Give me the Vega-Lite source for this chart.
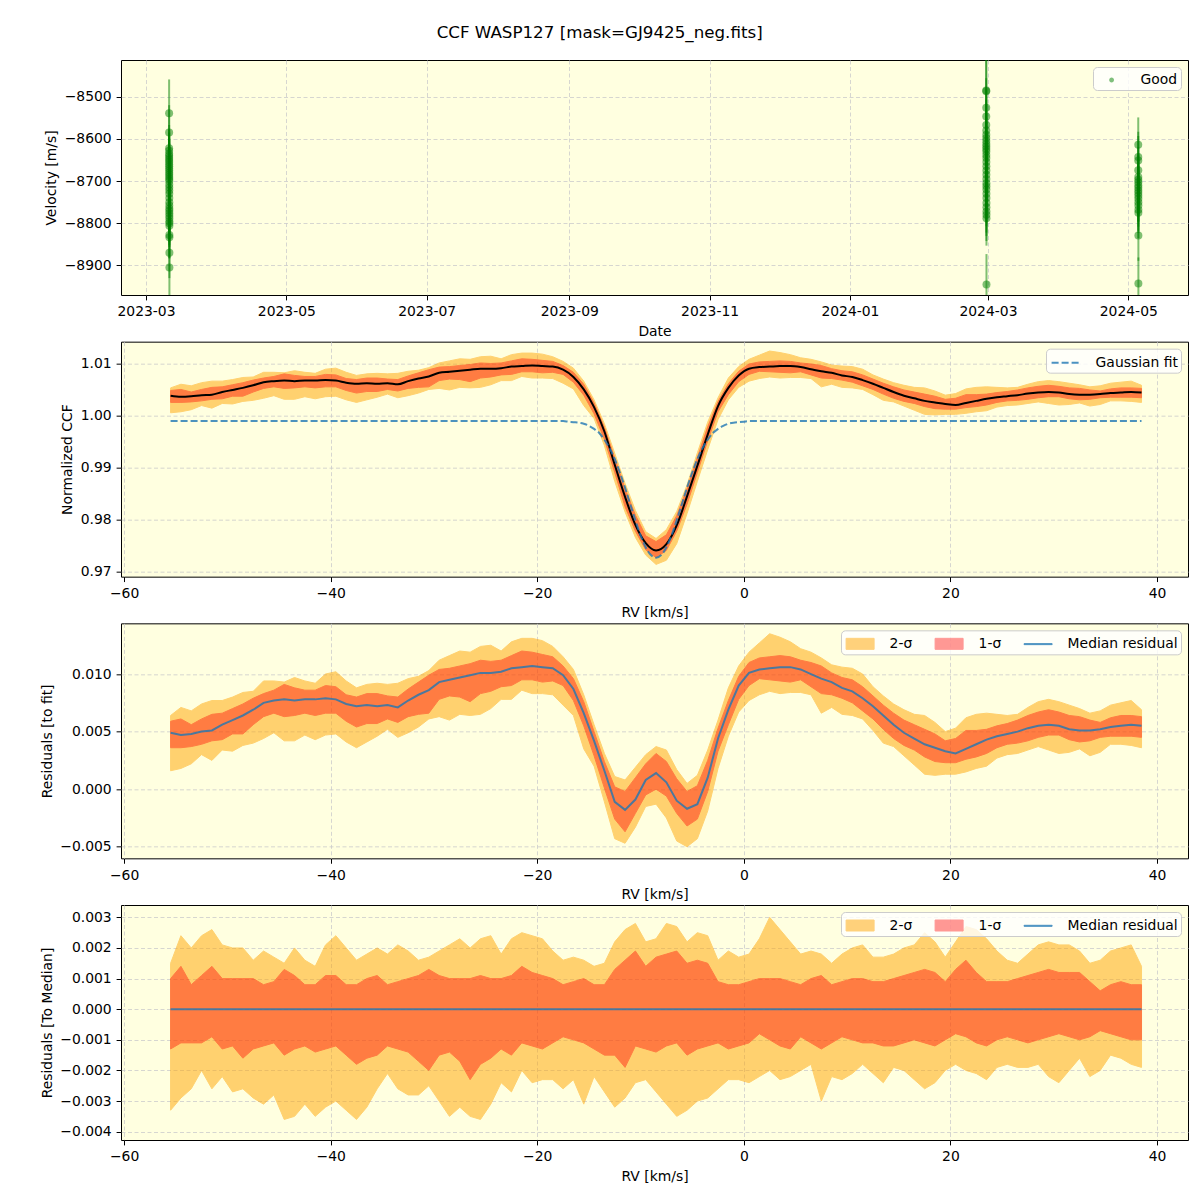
{
"$schema": "https://vega.github.io/schema/vega-lite/v6.json",
"background": "white",
"padding": {"left": 39, "top": 24, "right": 12, "bottom": 0},
"title": {"text": "CCF WASP127 [mask=GJ9425_neg.fits]", "font": "DejaVu Sans", "fontSize": 16.7, "fontWeight": "normal", "color": "#000000", "anchor": "middle", "offset": 18, "dx": -14.5},
"config": {
  "font": "DejaVu Sans",
  "view": {"fill": "#ffffe0", "stroke": "#000000", "strokeWidth": 1},
  "axis": {"domain": false, "grid": true, "gridColor": "#cccccc", "gridDash": [4, 2.5], "gridWidth": 0.8, "tickColor": "#000000", "tickSize": 4.9, "tickWidth": 1, "labelFont": "DejaVu Sans", "labelFontSize": 13.9, "labelColor": "#000000", "labelPadding": 4.9, "titleFont": "DejaVu Sans", "titleFontSize": 13.9, "titleFontWeight": "normal", "titleColor": "#000000", "titlePadding": 5.5, "labelFlush": false, "labelOverlap": false, "zindex": 1},
  "legend": {"orient": "top-right", "offset": 7, "padding": 3, "symbolSize": 400, "symbolOffset": 5.6, "labelOffset": 19, "labelFont": "DejaVu Sans", "labelFontSize": 13.9, "labelColor": "#000000", "fillColor": "rgba(255,255,255,0.8)", "strokeColor": "#cccccc", "cornerRadius": 4, "labelLimit": 400}
},
"datasets": {
"rvs": [
{"t":"2023-03-11T01:00","v":-8539,"e":80},{"t":"2023-03-11T01:05","v":-8585,"e":65},{"t":"2023-03-11T01:10","v":-8622,"e":55},{"t":"2023-03-11T01:15","v":-8628,"e":50},{"t":"2023-03-11T01:20","v":-8635,"e":50},{"t":"2023-03-11T01:25","v":-8640,"e":55},{"t":"2023-03-11T01:30","v":-8645,"e":48},{"t":"2023-03-11T01:35","v":-8650,"e":50},{"t":"2023-03-11T01:40","v":-8655,"e":52},{"t":"2023-03-11T01:45","v":-8660,"e":50},{"t":"2023-03-11T01:50","v":-8665,"e":45},{"t":"2023-03-11T01:55","v":-8670,"e":50},{"t":"2023-03-11T02:00","v":-8675,"e":55},{"t":"2023-03-11T02:05","v":-8680,"e":48},{"t":"2023-03-11T02:10","v":-8685,"e":50},{"t":"2023-03-11T02:15","v":-8690,"e":52},{"t":"2023-03-11T02:20","v":-8695,"e":50},{"t":"2023-03-11T02:25","v":-8700,"e":55},{"t":"2023-03-11T02:30","v":-8708,"e":50},{"t":"2023-03-11T02:35","v":-8715,"e":48},{"t":"2023-03-11T02:40","v":-8722,"e":50},{"t":"2023-03-11T02:45","v":-8730,"e":52},{"t":"2023-03-11T02:50","v":-8740,"e":50},{"t":"2023-03-11T02:55","v":-8750,"e":48},{"t":"2023-03-11T03:00","v":-8758,"e":50},{"t":"2023-03-11T03:05","v":-8765,"e":52},{"t":"2023-03-11T03:10","v":-8770,"e":50},{"t":"2023-03-11T03:15","v":-8776,"e":55},{"t":"2023-03-11T03:20","v":-8782,"e":50},{"t":"2023-03-11T03:25","v":-8788,"e":48},{"t":"2023-03-11T03:30","v":-8795,"e":50},{"t":"2023-03-11T03:35","v":-8800,"e":52},{"t":"2023-03-11T03:40","v":-8806,"e":50},{"t":"2023-03-11T03:45","v":-8828,"e":55},{"t":"2023-03-11T03:50","v":-8833,"e":50},{"t":"2023-03-11T03:55","v":-8870,"e":60},{"t":"2023-03-11T04:00","v":-8905,"e":70},
{"t":"2024-02-29T06:00","v":-8485,"e":80},{"t":"2024-02-29T06:05","v":-8487,"e":78},{"t":"2024-02-29T06:10","v":-8526,"e":70},{"t":"2024-02-29T06:15","v":-8547,"e":65},{"t":"2024-02-29T06:20","v":-8567,"e":60},{"t":"2024-02-29T06:25","v":-8580,"e":62},{"t":"2024-02-29T06:30","v":-8590,"e":58},{"t":"2024-02-29T06:35","v":-8598,"e":60},{"t":"2024-02-29T06:40","v":-8605,"e":55},{"t":"2024-02-29T06:45","v":-8612,"e":60},{"t":"2024-02-29T06:50","v":-8618,"e":58},{"t":"2024-02-29T06:55","v":-8624,"e":55},{"t":"2024-02-29T07:00","v":-8630,"e":60},{"t":"2024-02-29T07:05","v":-8638,"e":55},{"t":"2024-02-29T07:10","v":-8645,"e":58},{"t":"2024-02-29T07:15","v":-8655,"e":60},{"t":"2024-02-29T07:20","v":-8665,"e":55},{"t":"2024-02-29T07:25","v":-8675,"e":58},{"t":"2024-02-29T07:30","v":-8685,"e":60},{"t":"2024-02-29T07:35","v":-8695,"e":55},{"t":"2024-02-29T07:40","v":-8705,"e":60},{"t":"2024-02-29T07:45","v":-8712,"e":58},{"t":"2024-02-29T07:50","v":-8720,"e":55},{"t":"2024-02-29T07:55","v":-8730,"e":60},{"t":"2024-02-29T08:00","v":-8740,"e":58},{"t":"2024-02-29T08:05","v":-8752,"e":55},{"t":"2024-02-29T08:10","v":-8762,"e":60},{"t":"2024-02-29T08:15","v":-8772,"e":58},{"t":"2024-02-29T08:20","v":-8780,"e":62},{"t":"2024-02-29T08:25","v":-8788,"e":65},{"t":"2024-02-29T08:30","v":-8945,"e":72},
{"t":"2024-05-05T08:00","v":-8614,"e":65},{"t":"2024-05-05T08:05","v":-8643,"e":60},{"t":"2024-05-05T08:10","v":-8651,"e":58},{"t":"2024-05-05T08:15","v":-8674,"e":55},{"t":"2024-05-05T08:20","v":-8690,"e":55},{"t":"2024-05-05T08:25","v":-8697,"e":58},{"t":"2024-05-05T08:30","v":-8703,"e":55},{"t":"2024-05-05T08:35","v":-8710,"e":60},{"t":"2024-05-05T08:40","v":-8716,"e":55},{"t":"2024-05-05T08:45","v":-8722,"e":58},{"t":"2024-05-05T08:50","v":-8728,"e":55},{"t":"2024-05-05T08:55","v":-8735,"e":60},{"t":"2024-05-05T09:00","v":-8742,"e":55},{"t":"2024-05-05T09:05","v":-8750,"e":58},{"t":"2024-05-05T09:10","v":-8758,"e":60},{"t":"2024-05-05T09:15","v":-8768,"e":55},{"t":"2024-05-05T09:20","v":-8775,"e":60},{"t":"2024-05-05T09:25","v":-8829,"e":60},{"t":"2024-05-05T09:30","v":-8943,"e":62}
],
"gauss": [
{"rv":-55.5,"g":0.999},{"rv":-20,"g":0.999},{"rv":-18.5,"g":0.999},{"rv":-17.5,"g":0.999},{"rv":-17,"g":0.9989},{"rv":-16.5,"g":0.9988},{"rv":-16,"g":0.9987},{"rv":-15.5,"g":0.9985},{"rv":-15,"g":0.9981},{"rv":-14.5,"g":0.9975},{"rv":-14,"g":0.9967},{"rv":-13.5,"g":0.9954},{"rv":-13,"g":0.9938},{"rv":-12.5,"g":0.9917},{"rv":-12,"g":0.9891},{"rv":-11.5,"g":0.9862},{"rv":-11,"g":0.983},{"rv":-10.5,"g":0.9799},{"rv":-10,"g":0.977},{"rv":-9.5,"g":0.9747},{"rv":-9,"g":0.9732},{"rv":-8.5,"g":0.9727},{"rv":-8,"g":0.9732},{"rv":-7.5,"g":0.9747},{"rv":-7,"g":0.977},{"rv":-6.5,"g":0.9799},{"rv":-6,"g":0.983},{"rv":-5.5,"g":0.9862},{"rv":-5,"g":0.9891},{"rv":-4.5,"g":0.9917},{"rv":-4,"g":0.9938},{"rv":-3.5,"g":0.9954},{"rv":-3,"g":0.9967},{"rv":-2.5,"g":0.9975},{"rv":-2,"g":0.9981},{"rv":-1.5,"g":0.9985},{"rv":-1,"g":0.9987},{"rv":-0.5,"g":0.9988},{"rv":0,"g":0.9989},{"rv":0.5,"g":0.999},{"rv":2,"g":0.999},{"rv":38.5,"g":0.999}
],
"ccf": [
{"rv":-55.5,"m":1.0039,"m2l":1.0006,"m1l":1.0026,"m1h":1.0049,"m2h":1.0054,"r":0.0049,"r2l":0.0016,"r1l":0.0036,"r1h":0.0059,"r2h":0.0064,"o2l":-0.0033,"o1l":-0.0013,"o1h":0.0010,"o2h":0.0015},
{"rv":-54.5,"m":1.0037,"m2l":1.0008,"m1l":1.0026,"m1h":1.0051,"m2h":1.0061,"r":0.0047,"r2l":0.0018,"r1l":0.0036,"r1h":0.0061,"r2h":0.0071,"o2l":-0.0029,"o1l":-0.0011,"o1h":0.0014,"o2h":0.0024},
{"rv":-53.5,"m":1.0038,"m2l":1.0012,"m1l":1.0027,"m1h":1.0046,"m2h":1.0058,"r":0.0048,"r2l":0.0022,"r1l":0.0037,"r1h":0.0056,"r2h":0.0068,"o2l":-0.0026,"o1l":-0.0011,"o1h":0.0008,"o2h":0.0020},
{"rv":-52.5,"m":1.0040,"m2l":1.0020,"m1l":1.0029,"m1h":1.0051,"m2h":1.0064,"r":0.0050,"r2l":0.0030,"r1l":0.0039,"r1h":0.0061,"r2h":0.0074,"o2l":-0.0020,"o1l":-0.0011,"o1h":0.0011,"o2h":0.0024},
{"rv":-51.5,"m":1.0041,"m2l":1.0015,"m1l":1.0032,"m1h":1.0055,"m2h":1.0067,"r":0.0051,"r2l":0.0025,"r1l":0.0042,"r1h":0.0065,"r2h":0.0077,"o2l":-0.0026,"o1l":-0.0009,"o1h":0.0014,"o2h":0.0026},
{"rv":-50.5,"m":1.0046,"m2l":1.0024,"m1l":1.0033,"m1h":1.0056,"m2h":1.0067,"r":0.0056,"r2l":0.0034,"r1l":0.0043,"r1h":0.0066,"r2h":0.0077,"o2l":-0.0022,"o1l":-0.0013,"o1h":0.0010,"o2h":0.0021},
{"rv":-49.5,"m":1.0050,"m2l":1.0023,"m1l":1.0038,"m1h":1.0060,"m2h":1.0070,"r":0.0060,"r2l":0.0033,"r1l":0.0048,"r1h":0.0070,"r2h":0.0080,"o2l":-0.0027,"o1l":-0.0012,"o1h":0.0010,"o2h":0.0020},
{"rv":-48.5,"m":1.0054,"m2l":1.0028,"m1l":1.0038,"m1h":1.0064,"m2h":1.0074,"r":0.0064,"r2l":0.0038,"r1l":0.0048,"r1h":0.0074,"r2h":0.0084,"o2l":-0.0026,"o1l":-0.0016,"o1h":0.0010,"o2h":0.0020},
{"rv":-47.5,"m":1.0059,"m2l":1.0030,"m1l":1.0046,"m1h":1.0069,"m2h":1.0075,"r":0.0069,"r2l":0.0040,"r1l":0.0056,"r1h":0.0079,"r2h":0.0085,"o2l":-0.0029,"o1l":-0.0013,"o1h":0.0010,"o2h":0.0016},
{"rv":-46.5,"m":1.0065,"m2l":1.0034,"m1l":1.0053,"m1h":1.0073,"m2h":1.0084,"r":0.0075,"r2l":0.0044,"r1l":0.0063,"r1h":0.0083,"r2h":0.0094,"o2l":-0.0031,"o1l":-0.0012,"o1h":0.0008,"o2h":0.0019},
{"rv":-45.5,"m":1.0067,"m2l":1.0039,"m1l":1.0056,"m1h":1.0076,"m2h":1.0084,"r":0.0077,"r2l":0.0049,"r1l":0.0066,"r1h":0.0086,"r2h":0.0094,"o2l":-0.0028,"o1l":-0.0011,"o1h":0.0009,"o2h":0.0017},
{"rv":-44.5,"m":1.0068,"m2l":1.0032,"m1l":1.0053,"m1h":1.0081,"m2h":1.0083,"r":0.0078,"r2l":0.0042,"r1l":0.0063,"r1h":0.0091,"r2h":0.0093,"o2l":-0.0036,"o1l":-0.0015,"o1h":0.0013,"o2h":0.0015},
{"rv":-43.5,"m":1.0067,"m2l":1.0032,"m1l":1.0054,"m1h":1.0078,"m2h":1.0087,"r":0.0077,"r2l":0.0042,"r1l":0.0064,"r1h":0.0088,"r2h":0.0097,"o2l":-0.0035,"o1l":-0.0013,"o1h":0.0011,"o2h":0.0020},
{"rv":-42.5,"m":1.0068,"m2l":1.0037,"m1l":1.0056,"m1h":1.0076,"m2h":1.0084,"r":0.0078,"r2l":0.0047,"r1l":0.0066,"r1h":0.0086,"r2h":0.0094,"o2l":-0.0031,"o1l":-0.0012,"o1h":0.0008,"o2h":0.0016},
{"rv":-41.5,"m":1.0068,"m2l":1.0033,"m1l":1.0054,"m1h":1.0076,"m2h":1.0082,"r":0.0078,"r2l":0.0043,"r1l":0.0064,"r1h":0.0086,"r2h":0.0092,"o2l":-0.0035,"o1l":-0.0014,"o1h":0.0008,"o2h":0.0014},
{"rv":-40.5,"m":1.0069,"m2l":1.0037,"m1l":1.0056,"m1h":1.0080,"m2h":1.0090,"r":0.0079,"r2l":0.0047,"r1l":0.0066,"r1h":0.0090,"r2h":0.0100,"o2l":-0.0032,"o1l":-0.0013,"o1h":0.0011,"o2h":0.0021},
{"rv":-39.5,"m":1.0068,"m2l":1.0038,"m1l":1.0056,"m1h":1.0079,"m2h":1.0092,"r":0.0078,"r2l":0.0048,"r1l":0.0066,"r1h":0.0089,"r2h":0.0102,"o2l":-0.0030,"o1l":-0.0012,"o1h":0.0011,"o2h":0.0024},
{"rv":-38.5,"m":1.0064,"m2l":1.0031,"m1l":1.0049,"m1h":1.0072,"m2h":1.0084,"r":0.0074,"r2l":0.0041,"r1l":0.0059,"r1h":0.0082,"r2h":0.0094,"o2l":-0.0033,"o1l":-0.0015,"o1h":0.0008,"o2h":0.0020},
{"rv":-37.5,"m":1.0062,"m2l":1.0026,"m1l":1.0044,"m1h":1.0070,"m2h":1.0078,"r":0.0072,"r2l":0.0036,"r1l":0.0054,"r1h":0.0080,"r2h":0.0088,"o2l":-0.0036,"o1l":-0.0018,"o1h":0.0008,"o2h":0.0016},
{"rv":-36.5,"m":1.0063,"m2l":1.0031,"m1l":1.0047,"m1h":1.0073,"m2h":1.0081,"r":0.0073,"r2l":0.0041,"r1l":0.0057,"r1h":0.0083,"r2h":0.0091,"o2l":-0.0032,"o1l":-0.0016,"o1h":0.0010,"o2h":0.0018},
{"rv":-35.5,"m":1.0062,"m2l":1.0036,"m1l":1.0047,"m1h":1.0073,"m2h":1.0082,"r":0.0072,"r2l":0.0046,"r1l":0.0057,"r1h":0.0083,"r2h":0.0092,"o2l":-0.0026,"o1l":-0.0015,"o1h":0.0011,"o2h":0.0020},
{"rv":-34.5,"m":1.0063,"m2l":1.0042,"m1l":1.0051,"m1h":1.0071,"m2h":1.0081,"r":0.0073,"r2l":0.0052,"r1l":0.0061,"r1h":0.0081,"r2h":0.0091,"o2l":-0.0021,"o1l":-0.0012,"o1h":0.0008,"o2h":0.0018},
{"rv":-33.5,"m":1.0061,"m2l":1.0035,"m1l":1.0048,"m1h":1.0070,"m2h":1.0082,"r":0.0071,"r2l":0.0045,"r1l":0.0058,"r1h":0.0080,"r2h":0.0092,"o2l":-0.0026,"o1l":-0.0013,"o1h":0.0009,"o2h":0.0021},
{"rv":-32.5,"m":1.0067,"m2l":1.0039,"m1l":1.0053,"m1h":1.0077,"m2h":1.0086,"r":0.0077,"r2l":0.0049,"r1l":0.0063,"r1h":0.0087,"r2h":0.0096,"o2l":-0.0028,"o1l":-0.0014,"o1h":0.0010,"o2h":0.0019},
{"rv":-31.5,"m":1.0072,"m2l":1.0044,"m1l":1.0055,"m1h":1.0083,"m2h":1.0088,"r":0.0082,"r2l":0.0054,"r1l":0.0065,"r1h":0.0093,"r2h":0.0098,"o2l":-0.0028,"o1l":-0.0017,"o1h":0.0011,"o2h":0.0016},
{"rv":-30.5,"m":1.0076,"m2l":1.0051,"m1l":1.0056,"m1h":1.0089,"m2h":1.0093,"r":0.0086,"r2l":0.0061,"r1l":0.0066,"r1h":0.0099,"r2h":0.0103,"o2l":-0.0025,"o1l":-0.0020,"o1h":0.0013,"o2h":0.0017},
{"rv":-29.5,"m":1.0083,"m2l":1.0053,"m1l":1.0068,"m1h":1.0094,"m2h":1.0102,"r":0.0093,"r2l":0.0063,"r1l":0.0078,"r1h":0.0104,"r2h":0.0112,"o2l":-0.0030,"o1l":-0.0015,"o1h":0.0011,"o2h":0.0019},
{"rv":-28.5,"m":1.0085,"m2l":1.0050,"m1l":1.0071,"m1h":1.0095,"m2h":1.0106,"r":0.0095,"r2l":0.0060,"r1l":0.0081,"r1h":0.0105,"r2h":0.0116,"o2l":-0.0035,"o1l":-0.0014,"o1h":0.0010,"o2h":0.0021},
{"rv":-27.5,"m":1.0087,"m2l":1.0055,"m1l":1.0070,"m1h":1.0097,"m2h":1.0110,"r":0.0097,"r2l":0.0065,"r1l":0.0080,"r1h":0.0107,"r2h":0.0120,"o2l":-0.0032,"o1l":-0.0017,"o1h":0.0010,"o2h":0.0023},
{"rv":-26.5,"m":1.0089,"m2l":1.0054,"m1l":1.0066,"m1h":1.0099,"m2h":1.0109,"r":0.0099,"r2l":0.0064,"r1l":0.0076,"r1h":0.0109,"r2h":0.0119,"o2l":-0.0035,"o1l":-0.0023,"o1h":0.0010,"o2h":0.0020},
{"rv":-25.5,"m":1.0091,"m2l":1.0055,"m1l":1.0073,"m1h":1.0102,"m2h":1.0114,"r":0.0101,"r2l":0.0065,"r1l":0.0083,"r1h":0.0112,"r2h":0.0124,"o2l":-0.0036,"o1l":-0.0018,"o1h":0.0011,"o2h":0.0023},
{"rv":-24.5,"m":1.0091,"m2l":1.0060,"m1l":1.0075,"m1h":1.0101,"m2h":1.0115,"r":0.0101,"r2l":0.0070,"r1l":0.0085,"r1h":0.0111,"r2h":0.0125,"o2l":-0.0031,"o1l":-0.0016,"o1h":0.0010,"o2h":0.0024},
{"rv":-23.5,"m":1.0092,"m2l":1.0068,"m1l":1.0079,"m1h":1.0102,"m2h":1.0110,"r":0.0102,"r2l":0.0078,"r1l":0.0089,"r1h":0.0112,"r2h":0.0120,"o2l":-0.0024,"o1l":-0.0013,"o1h":0.0010,"o2h":0.0018},
{"rv":-22.5,"m":1.0095,"m2l":1.0068,"m1l":1.0080,"m1h":1.0106,"m2h":1.0118,"r":0.0105,"r2l":0.0078,"r1l":0.0090,"r1h":0.0116,"r2h":0.0128,"o2l":-0.0027,"o1l":-0.0015,"o1h":0.0011,"o2h":0.0023},
{"rv":-21.5,"m":1.0096,"m2l":1.0076,"m1l":1.0085,"m1h":1.0110,"m2h":1.0121,"r":0.0106,"r2l":0.0086,"r1l":0.0095,"r1h":0.0120,"r2h":0.0131,"o2l":-0.0020,"o1l":-0.0011,"o1h":0.0014,"o2h":0.0025},
{"rv":-20.5,"m":1.0097,"m2l":1.0073,"m1l":1.0085,"m1h":1.0109,"m2h":1.0121,"r":0.0107,"r2l":0.0083,"r1l":0.0095,"r1h":0.0119,"r2h":0.0131,"o2l":-0.0024,"o1l":-0.0012,"o1h":0.0012,"o2h":0.0024},
{"rv":-19.5,"m":1.0096,"m2l":1.0073,"m1l":1.0083,"m1h":1.0107,"m2h":1.0119,"r":0.0106,"r2l":0.0083,"r1l":0.0093,"r1h":0.0117,"r2h":0.0129,"o2l":-0.0023,"o1l":-0.0013,"o1h":0.0011,"o2h":0.0023},
{"rv":-18.5,"m":1.0095,"m2l":1.0072,"m1l":1.0084,"m1h":1.0105,"m2h":1.0114,"r":0.0105,"r2l":0.0082,"r1l":0.0094,"r1h":0.0115,"r2h":0.0124,"o2l":-0.0023,"o1l":-0.0011,"o1h":0.0010,"o2h":0.0019},
{"rv":-17.5,"m":1.0089,"m2l":1.0063,"m1l":1.0080,"m1h":1.0097,"m2h":1.0105,"r":0.0099,"r2l":0.0073,"r1l":0.0090,"r1h":0.0107,"r2h":0.0115,"o2l":-0.0026,"o1l":-0.0009,"o1h":0.0008,"o2h":0.0016},
{"rv":-16.5,"m":1.0075,"m2l":1.0052,"m1l":1.0065,"m1h":1.0084,"m2h":1.0092,"r":0.0087,"r2l":0.0064,"r1l":0.0077,"r1h":0.0096,"r2h":0.0104,"o2l":-0.0023,"o1l":-0.0010,"o1h":0.0009,"o2h":0.0017},
{"rv":-15.5,"m":1.0051,"m2l":1.0020,"m1l":1.0040,"m1h":1.0061,"m2h":1.0067,"r":0.0066,"r2l":0.0035,"r1l":0.0055,"r1h":0.0076,"r2h":0.0082,"o2l":-0.0031,"o1l":-0.0011,"o1h":0.0010,"o2h":0.0016},
{"rv":-14.5,"m":1.0017,"m2l":0.9995,"m1l":1.0004,"m1h":1.0025,"m2h":1.0031,"r":0.0042,"r2l":0.0020,"r1l":0.0029,"r1h":0.0050,"r2h":0.0056,"o2l":-0.0022,"o1l":-0.0013,"o1h":0.0008,"o2h":0.0014},
{"rv":-13.5,"m":0.9970,"m2l":0.9943,"m1l":0.9955,"m1h":0.9978,"m2h":0.9985,"r":0.0016,"r2l":-0.0011,"r1l":0.0001,"r1h":0.0024,"r2h":0.0031,"o2l":-0.0027,"o1l":-0.0015,"o1h":0.0008,"o2h":0.0015},
{"rv":-12.5,"m":0.9906,"m2l":0.9874,"m1l":0.9891,"m1h":0.9919,"m2h":0.9928,"r":-0.0011,"r2l":-0.0043,"r1l":-0.0026,"r1h":0.0002,"r2h":0.0011,"o2l":-0.0032,"o1l":-0.0015,"o1h":0.0013,"o2h":0.0022},
{"rv":-11.5,"m":0.9844,"m2l":0.9815,"m1l":0.9825,"m1h":0.9860,"m2h":0.9870,"r":-0.0018,"r2l":-0.0047,"r1l":-0.0037,"r1h":-0.0002,"r2h":0.0008,"o2l":-0.0029,"o1l":-0.0019,"o1h":0.0016,"o2h":0.0026},
{"rv":-10.5,"m":0.9790,"m2l":0.9766,"m1l":0.9778,"m1h":0.9809,"m2h":0.9818,"r":-0.0009,"r2l":-0.0033,"r1l":-0.0021,"r1h":0.0010,"r2h":0.0019,"o2l":-0.0024,"o1l":-0.0012,"o1h":0.0019,"o2h":0.0028},
{"rv":-9.5,"m":0.9755,"m2l":0.9732,"m1l":0.9742,"m1h":0.9769,"m2h":0.9777,"r":0.0008,"r2l":-0.0015,"r1l":-0.0005,"r1h":0.0022,"r2h":0.0030,"o2l":-0.0023,"o1l":-0.0013,"o1h":0.0014,"o2h":0.0022},
{"rv":-8.5,"m":0.9741,"m2l":0.9714,"m1l":0.9727,"m1h":0.9758,"m2h":0.9764,"r":0.0014,"r2l":-0.0013,"r1l":0.0000,"r1h":0.0031,"r2h":0.0037,"o2l":-0.0027,"o1l":-0.0014,"o1h":0.0017,"o2h":0.0023},
{"rv":-7.5,"m":0.9753,"m2l":0.9722,"m1l":0.9741,"m1h":0.9771,"m2h":0.9781,"r":0.0006,"r2l":-0.0025,"r1l":-0.0006,"r1h":0.0024,"r2h":0.0034,"o2l":-0.0031,"o1l":-0.0012,"o1h":0.0018,"o2h":0.0028},
{"rv":-6.5,"m":0.9789,"m2l":0.9754,"m1l":0.9778,"m1h":0.9808,"m2h":0.9816,"r":-0.0010,"r2l":-0.0045,"r1l":-0.0021,"r1h":0.0009,"r2h":0.0017,"o2l":-0.0035,"o1l":-0.0011,"o1h":0.0019,"o2h":0.0027},
{"rv":-5.5,"m":0.9845,"m2l":0.9812,"m1l":0.9830,"m1h":0.9860,"m2h":0.9867,"r":-0.0017,"r2l":-0.0050,"r1l":-0.0032,"r1h":-0.0002,"r2h":0.0005,"o2l":-0.0033,"o1l":-0.0015,"o1h":0.0015,"o2h":0.0022},
{"rv":-4.5,"m":0.9904,"m2l":0.9874,"m1l":0.9891,"m1h":0.9920,"m2h":0.9929,"r":-0.0013,"r2l":-0.0043,"r1l":-0.0026,"r1h":0.0003,"r2h":0.0012,"o2l":-0.0030,"o1l":-0.0013,"o1h":0.0016,"o2h":0.0025},
{"rv":-3.5,"m":0.9964,"m2l":0.9935,"m1l":0.9952,"m1h":0.9979,"m2h":0.9988,"r":0.0010,"r2l":-0.0019,"r1l":-0.0002,"r1h":0.0025,"r2h":0.0034,"o2l":-0.0029,"o1l":-0.0012,"o1h":0.0015,"o2h":0.0024},
{"rv":-2.5,"m":1.0019,"m2l":0.9993,"m1l":1.0008,"m1h":1.0028,"m2h":1.0035,"r":0.0044,"r2l":0.0018,"r1l":0.0033,"r1h":0.0053,"r2h":0.0060,"o2l":-0.0026,"o1l":-0.0011,"o1h":0.0009,"o2h":0.0016},
{"rv":-1.5,"m":1.0054,"m2l":1.0031,"m1l":1.0041,"m1h":1.0062,"m2h":1.0073,"r":0.0069,"r2l":0.0046,"r1l":0.0056,"r1h":0.0077,"r2h":0.0088,"o2l":-0.0023,"o1l":-0.0013,"o1h":0.0008,"o2h":0.0019},
{"rv":-0.5,"m":1.0078,"m2l":1.0055,"m1l":1.0066,"m1h":1.0086,"m2h":1.0095,"r":0.0090,"r2l":0.0067,"r1l":0.0078,"r1h":0.0098,"r2h":0.0107,"o2l":-0.0023,"o1l":-0.0012,"o1h":0.0008,"o2h":0.0017},
{"rv":0.5,"m":1.0091,"m2l":1.0067,"m1l":1.0080,"m1h":1.0100,"m2h":1.0109,"r":0.0101,"r2l":0.0077,"r1l":0.0090,"r1h":0.0110,"r2h":0.0119,"o2l":-0.0024,"o1l":-0.0011,"o1h":0.0009,"o2h":0.0018},
{"rv":1.5,"m":1.0094,"m2l":1.0072,"m1l":1.0086,"m1h":1.0104,"m2h":1.0117,"r":0.0104,"r2l":0.0082,"r1l":0.0096,"r1h":0.0114,"r2h":0.0127,"o2l":-0.0022,"o1l":-0.0008,"o1h":0.0010,"o2h":0.0023},
{"rv":2.5,"m":1.0095,"m2l":1.0075,"m1l":1.0085,"m1h":1.0105,"m2h":1.0125,"r":0.0105,"r2l":0.0085,"r1l":0.0095,"r1h":0.0115,"r2h":0.0135,"o2l":-0.0020,"o1l":-0.0010,"o1h":0.0010,"o2h":0.0030},
{"rv":3.5,"m":1.0096,"m2l":1.0073,"m1l":1.0084,"m1h":1.0106,"m2h":1.0122,"r":0.0106,"r2l":0.0083,"r1l":0.0094,"r1h":0.0116,"r2h":0.0132,"o2l":-0.0023,"o1l":-0.0012,"o1h":0.0010,"o2h":0.0026},
{"rv":4.5,"m":1.0096,"m2l":1.0074,"m1l":1.0083,"m1h":1.0105,"m2h":1.0118,"r":0.0106,"r2l":0.0084,"r1l":0.0093,"r1h":0.0115,"r2h":0.0128,"o2l":-0.0022,"o1l":-0.0013,"o1h":0.0009,"o2h":0.0022},
{"rv":5.5,"m":1.0094,"m2l":1.0074,"m1l":1.0085,"m1h":1.0102,"m2h":1.0112,"r":0.0104,"r2l":0.0084,"r1l":0.0095,"r1h":0.0112,"r2h":0.0122,"o2l":-0.0020,"o1l":-0.0009,"o1h":0.0008,"o2h":0.0018},
{"rv":6.5,"m":1.0090,"m2l":1.0072,"m1l":1.0079,"m1h":1.0100,"m2h":1.0109,"r":0.0100,"r2l":0.0082,"r1l":0.0089,"r1h":0.0110,"r2h":0.0119,"o2l":-0.0018,"o1l":-0.0011,"o1h":0.0010,"o2h":0.0019},
{"rv":7.5,"m":1.0086,"m2l":1.0056,"m1l":1.0073,"m1h":1.0097,"m2h":1.0104,"r":0.0096,"r2l":0.0066,"r1l":0.0083,"r1h":0.0107,"r2h":0.0114,"o2l":-0.0030,"o1l":-0.0013,"o1h":0.0011,"o2h":0.0018},
{"rv":8.5,"m":1.0083,"m2l":1.0061,"m1l":1.0072,"m1h":1.0091,"m2h":1.0098,"r":0.0093,"r2l":0.0071,"r1l":0.0082,"r1h":0.0101,"r2h":0.0108,"o2l":-0.0022,"o1l":-0.0011,"o1h":0.0008,"o2h":0.0015},
{"rv":9.5,"m":1.0078,"m2l":1.0055,"m1l":1.0069,"m1h":1.0087,"m2h":1.0096,"r":0.0088,"r2l":0.0065,"r1l":0.0079,"r1h":0.0097,"r2h":0.0106,"o2l":-0.0023,"o1l":-0.0009,"o1h":0.0009,"o2h":0.0018},
{"rv":10.5,"m":1.0075,"m2l":1.0054,"m1l":1.0065,"m1h":1.0085,"m2h":1.0095,"r":0.0085,"r2l":0.0064,"r1l":0.0075,"r1h":0.0095,"r2h":0.0105,"o2l":-0.0021,"o1l":-0.0010,"o1h":0.0010,"o2h":0.0020},
{"rv":11.5,"m":1.0069,"m2l":1.0051,"m1l":1.0058,"m1h":1.0079,"m2h":1.0090,"r":0.0079,"r2l":0.0061,"r1l":0.0068,"r1h":0.0089,"r2h":0.0100,"o2l":-0.0018,"o1l":-0.0011,"o1h":0.0010,"o2h":0.0021},
{"rv":12.5,"m":1.0062,"m2l":1.0041,"m1l":1.0051,"m1h":1.0071,"m2h":1.0079,"r":0.0072,"r2l":0.0051,"r1l":0.0061,"r1h":0.0081,"r2h":0.0089,"o2l":-0.0021,"o1l":-0.0011,"o1h":0.0009,"o2h":0.0017},
{"rv":13.5,"m":1.0054,"m2l":1.0030,"m1l":1.0042,"m1h":1.0063,"m2h":1.0071,"r":0.0064,"r2l":0.0040,"r1l":0.0052,"r1h":0.0073,"r2h":0.0081,"o2l":-0.0024,"o1l":-0.0012,"o1h":0.0009,"o2h":0.0017},
{"rv":14.5,"m":1.0046,"m2l":1.0027,"m1l":1.0034,"m1h":1.0056,"m2h":1.0064,"r":0.0056,"r2l":0.0037,"r1l":0.0044,"r1h":0.0066,"r2h":0.0074,"o2l":-0.0019,"o1l":-0.0012,"o1h":0.0010,"o2h":0.0018},
{"rv":15.5,"m":1.0039,"m2l":1.0019,"m1l":1.0028,"m1h":1.0050,"m2h":1.0059,"r":0.0049,"r2l":0.0029,"r1l":0.0038,"r1h":0.0060,"r2h":0.0069,"o2l":-0.0020,"o1l":-0.0011,"o1h":0.0011,"o2h":0.0020},
{"rv":16.5,"m":1.0034,"m2l":1.0011,"m1l":1.0024,"m1h":1.0046,"m2h":1.0055,"r":0.0044,"r2l":0.0021,"r1l":0.0034,"r1h":0.0056,"r2h":0.0065,"o2l":-0.0023,"o1l":-0.0010,"o1h":0.0012,"o2h":0.0021},
{"rv":17.5,"m":1.0029,"m2l":1.0003,"m1l":1.0018,"m1h":1.0042,"m2h":1.0054,"r":0.0039,"r2l":0.0013,"r1l":0.0028,"r1h":0.0052,"r2h":0.0064,"o2l":-0.0026,"o1l":-0.0011,"o1h":0.0013,"o2h":0.0025},
{"rv":18.5,"m":1.0026,"m2l":1.0002,"m1l":1.0014,"m1h":1.0038,"m2h":1.0048,"r":0.0036,"r2l":0.0012,"r1l":0.0024,"r1h":0.0048,"r2h":0.0058,"o2l":-0.0024,"o1l":-0.0012,"o1h":0.0012,"o2h":0.0022},
{"rv":19.5,"m":1.0023,"m2l":1.0003,"m1l":1.0013,"m1h":1.0032,"m2h":1.0040,"r":0.0033,"r2l":0.0013,"r1l":0.0023,"r1h":0.0042,"r2h":0.0050,"o2l":-0.0020,"o1l":-0.0010,"o1h":0.0009,"o2h":0.0017},
{"rv":20.5,"m":1.0021,"m2l":1.0003,"m1l":1.0013,"m1h":1.0034,"m2h":1.0043,"r":0.0031,"r2l":0.0013,"r1l":0.0023,"r1h":0.0044,"r2h":0.0053,"o2l":-0.0018,"o1l":-0.0008,"o1h":0.0013,"o2h":0.0022},
{"rv":21.5,"m":1.0025,"m2l":1.0005,"m1l":1.0016,"m1h":1.0041,"m2h":1.0052,"r":0.0035,"r2l":0.0015,"r1l":0.0026,"r1h":0.0051,"r2h":0.0062,"o2l":-0.0020,"o1l":-0.0009,"o1h":0.0016,"o2h":0.0027},
{"rv":22.5,"m":1.0029,"m2l":1.0008,"m1l":1.0018,"m1h":1.0041,"m2h":1.0055,"r":0.0039,"r2l":0.0018,"r1l":0.0028,"r1h":0.0051,"r2h":0.0065,"o2l":-0.0021,"o1l":-0.0011,"o1h":0.0012,"o2h":0.0026},
{"rv":23.5,"m":1.0033,"m2l":1.0010,"m1l":1.0021,"m1h":1.0042,"m2h":1.0056,"r":0.0043,"r2l":0.0020,"r1l":0.0031,"r1h":0.0052,"r2h":0.0066,"o2l":-0.0023,"o1l":-0.0012,"o1h":0.0009,"o2h":0.0023},
{"rv":24.5,"m":1.0036,"m2l":1.0017,"m1l":1.0026,"m1h":1.0045,"m2h":1.0055,"r":0.0046,"r2l":0.0027,"r1l":0.0036,"r1h":0.0055,"r2h":0.0065,"o2l":-0.0019,"o1l":-0.0010,"o1h":0.0009,"o2h":0.0019},
{"rv":25.5,"m":1.0038,"m2l":1.0020,"m1l":1.0029,"m1h":1.0047,"m2h":1.0054,"r":0.0048,"r2l":0.0030,"r1l":0.0039,"r1h":0.0057,"r2h":0.0064,"o2l":-0.0018,"o1l":-0.0009,"o1h":0.0009,"o2h":0.0016},
{"rv":26.5,"m":1.0040,"m2l":1.0021,"m1l":1.0030,"m1h":1.0050,"m2h":1.0055,"r":0.0050,"r2l":0.0031,"r1l":0.0040,"r1h":0.0060,"r2h":0.0065,"o2l":-0.0019,"o1l":-0.0010,"o1h":0.0010,"o2h":0.0015},
{"rv":27.5,"m":1.0043,"m2l":1.0024,"m1l":1.0032,"m1h":1.0054,"m2h":1.0061,"r":0.0053,"r2l":0.0034,"r1l":0.0042,"r1h":0.0064,"r2h":0.0071,"o2l":-0.0019,"o1l":-0.0011,"o1h":0.0011,"o2h":0.0018},
{"rv":28.5,"m":1.0045,"m2l":1.0027,"m1l":1.0035,"m1h":1.0057,"m2h":1.0066,"r":0.0055,"r2l":0.0037,"r1l":0.0045,"r1h":0.0067,"r2h":0.0076,"o2l":-0.0018,"o1l":-0.0010,"o1h":0.0012,"o2h":0.0021},
{"rv":29.5,"m":1.0046,"m2l":1.0024,"m1l":1.0037,"m1h":1.0059,"m2h":1.0068,"r":0.0056,"r2l":0.0034,"r1l":0.0047,"r1h":0.0069,"r2h":0.0078,"o2l":-0.0022,"o1l":-0.0009,"o1h":0.0013,"o2h":0.0022},
{"rv":30.5,"m":1.0045,"m2l":1.0021,"m1l":1.0037,"m1h":1.0057,"m2h":1.0066,"r":0.0055,"r2l":0.0031,"r1l":0.0047,"r1h":0.0067,"r2h":0.0076,"o2l":-0.0024,"o1l":-0.0008,"o1h":0.0012,"o2h":0.0021},
{"rv":31.5,"m":1.0042,"m2l":1.0022,"m1l":1.0033,"m1h":1.0054,"m2h":1.0063,"r":0.0052,"r2l":0.0032,"r1l":0.0043,"r1h":0.0064,"r2h":0.0073,"o2l":-0.0020,"o1l":-0.0009,"o1h":0.0012,"o2h":0.0021},
{"rv":32.5,"m":1.0041,"m2l":1.0025,"m1l":1.0031,"m1h":1.0053,"m2h":1.0060,"r":0.0051,"r2l":0.0035,"r1l":0.0041,"r1h":0.0063,"r2h":0.0070,"o2l":-0.0016,"o1l":-0.0010,"o1h":0.0012,"o2h":0.0019},
{"rv":33.5,"m":1.0041,"m2l":1.0019,"m1l":1.0032,"m1h":1.0050,"m2h":1.0056,"r":0.0051,"r2l":0.0029,"r1l":0.0042,"r1h":0.0060,"r2h":0.0066,"o2l":-0.0022,"o1l":-0.0009,"o1h":0.0009,"o2h":0.0015},
{"rv":34.5,"m":1.0042,"m2l":1.0022,"m1l":1.0035,"m1h":1.0048,"m2h":1.0058,"r":0.0052,"r2l":0.0032,"r1l":0.0045,"r1h":0.0058,"r2h":0.0068,"o2l":-0.0020,"o1l":-0.0007,"o1h":0.0006,"o2h":0.0016},
{"rv":35.5,"m":1.0044,"m2l":1.0029,"m1l":1.0036,"m1h":1.0052,"m2h":1.0063,"r":0.0054,"r2l":0.0039,"r1l":0.0046,"r1h":0.0062,"r2h":0.0073,"o2l":-0.0015,"o1l":-0.0008,"o1h":0.0008,"o2h":0.0019},
{"rv":36.5,"m":1.0045,"m2l":1.0029,"m1l":1.0036,"m1h":1.0054,"m2h":1.0065,"r":0.0055,"r2l":0.0039,"r1l":0.0046,"r1h":0.0064,"r2h":0.0075,"o2l":-0.0016,"o1l":-0.0009,"o1h":0.0009,"o2h":0.0020},
{"rv":37.5,"m":1.0046,"m2l":1.0028,"m1l":1.0036,"m1h":1.0054,"m2h":1.0067,"r":0.0056,"r2l":0.0038,"r1l":0.0046,"r1h":0.0064,"r2h":0.0077,"o2l":-0.0018,"o1l":-0.0010,"o1h":0.0008,"o2h":0.0021},
{"rv":38.5,"m":1.0045,"m2l":1.0026,"m1l":1.0035,"m1h":1.0053,"m2h":1.0059,"r":0.0055,"r2l":0.0036,"r1l":0.0045,"r1h":0.0063,"r2h":0.0069,"o2l":-0.0019,"o1l":-0.0010,"o1h":0.0008,"o2h":0.0014}
]
},
"spacing": 46.67,
"bounds": "flush",
"resolve": {"scale": {"x": "independent", "y": "independent", "color": "independent"}, "legend": {"color": "independent"}},
"vconcat": [
{
 "width": 1067, "height": 235,
 "data": {"name": "rvs"},
 "layer": [
  {"mark": {"type": "errorbar", "color": "#008000", "opacity": 0.5, "thickness": 2, "clip": true},
   "encoding": {
    "x": {"field": "t", "type": "temporal", "title": "Date", "scale": {"domain": [{"year": 2023, "month": 2, "date": 18, "hours": 3}, {"year": 2024, "month": 5, "date": 26, "hours": 23}]}, "axis": {"format": "%Y-%m", "tickCount": {"interval": "month", "step": 2}}},
    "y": {"field": "v", "type": "quantitative", "title": "Velocity [m/s]", "scale": {"domain": [-8970, -8412.9], "nice": false, "zero": false}, "axis": {"values": [-8900, -8800, -8700, -8600, -8500], "format": "d"}},
    "yError": {"field": "e"}
   }},
  {"mark": {"type": "point", "shape": "circle", "filled": true, "size": 64, "opacity": 0.5, "clip": true},
   "encoding": {
    "x": {"field": "t", "type": "temporal", "title": "Date"},
    "y": {"field": "v", "type": "quantitative", "title": "Velocity [m/s]", "axis": {"values": [-8900, -8800, -8700, -8600, -8500], "format": "d"}},
    "color": {"datum": "Good", "scale": {"domain": ["Good"], "range": ["#008000"]},
     "legend": {"title": null, "symbolType": "M-0.24,0A0.24,0.24 0 1,0 0.24,0A0.24,0.24 0 1,0 -0.24,0Z", "symbolOpacity": 0.5, "symbolStrokeWidth": 0}}
   }}
 ]
},
{
 "width": 1067, "height": 235,
 "layer": [
  {"data": {"name": "ccf"},
   "mark": {"type": "area", "color": "#ffa500", "opacity": 0.5, "stroke": "#ffa500", "strokeWidth": 1},
   "encoding": {
    "x": {"field": "rv", "type": "quantitative", "title": "RV [km/s]", "scale": {"domain": [-60.3, 43.0], "nice": false, "zero": false}, "axis": {"values": [-60, -40, -20, 0, 20, 40], "format": "d"}},
    "y": {"field": "m2l", "type": "quantitative", "title": "Normalized CCF", "scale": {"domain": [0.96904, 1.0143], "nice": false, "zero": false}, "axis": {"values": [0.97, 0.98, 0.99, 1.0, 1.01], "format": ".2f"}},
    "y2": {"field": "m2h"}
   }},
  {"data": {"name": "ccf"},
   "mark": {"type": "area", "color": "#ff0000", "opacity": 0.4, "stroke": "#ff0000", "strokeWidth": 1},
   "encoding": {
    "x": {"field": "rv", "type": "quantitative", "title": "RV [km/s]"},
    "y": {"field": "m1l", "type": "quantitative", "title": "Normalized CCF"},
    "y2": {"field": "m1h"}
   }},
  {"data": {"name": "ccf"},
   "mark": {"type": "line", "color": "#000000", "strokeWidth": 2, "interpolate": "monotone"},
   "encoding": {
    "x": {"field": "rv", "type": "quantitative", "title": "RV [km/s]"},
    "y": {"field": "m", "type": "quantitative", "title": "Normalized CCF"}
   }},
  {"data": {"name": "gauss"},
   "mark": {"type": "line", "strokeWidth": 2, "opacity": 0.8, "strokeDash": [7, 3], "interpolate": "monotone"},
   "encoding": {
    "x": {"field": "rv", "type": "quantitative", "title": "RV [km/s]"},
    "y": {"field": "g", "type": "quantitative", "title": "Normalized CCF"},
    "color": {"datum": "Gaussian fit", "scale": {"domain": ["Gaussian fit"], "range": ["#1f77b4"]},
     "legend": {"title": null, "symbolType": "M-1.4,0H1.4", "symbolDash": [7, 3], "symbolStrokeWidth": 2, "symbolOpacity": 0.8}}
   }}
 ]
},
{
 "width": 1067, "height": 235,
 "data": {"name": "ccf"},
 "layer": [
  {"mark": {"type": "area", "opacity": 0.5, "stroke": "#ffa500", "strokeWidth": 1},
   "encoding": {
    "x": {"field": "rv", "type": "quantitative", "title": "RV [km/s]", "scale": {"domain": [-60.3, 43.0], "nice": false, "zero": false}, "axis": {"values": [-60, -40, -20, 0, 20, 40], "format": "d"}},
    "y": {"field": "r2l", "type": "quantitative", "title": "Residuals [to fit]", "scale": {"domain": [-0.006008, 0.014404], "nice": false, "zero": false}, "axis": {"values": [-0.005, 0, 0.005, 0.01], "format": ".3f"}},
    "y2": {"field": "r2h"},
    "color": {"datum": "2-σ", "scale": {"domain": ["2-σ", "1-σ", "Median residual"], "range": ["#ffa500", "#ff0000", "#1f77b4"]},
     "legend": {"title": null, "direction": "horizontal", "columns": 3, "columnPadding": 20,
       "symbolType": {"expr": "datum.index === 2 ? 'M-1.4,-0.05H1.4V0.05H-1.4Z' : 'M-1.4,-0.55H1.4V0.55H-1.4Z'"},
       "symbolOpacity": {"expr": "datum.index === 0 ? 0.5 : datum.index === 1 ? 0.4 : 0.8"},
       "symbolStrokeWidth": 1}}
   }},
  {"mark": {"type": "area", "opacity": 0.4, "stroke": "#ff0000", "strokeWidth": 1},
   "encoding": {
    "x": {"field": "rv", "type": "quantitative", "title": "RV [km/s]"},
    "y": {"field": "r1l", "type": "quantitative", "title": "Residuals [to fit]", "axis": {"values": [-0.005, 0, 0.005, 0.01], "format": ".3f"}},
    "y2": {"field": "r1h"},
    "color": {"datum": "1-σ"}
   }},
  {"mark": {"type": "line", "strokeWidth": 2, "opacity": 0.8},
   "encoding": {
    "x": {"field": "rv", "type": "quantitative", "title": "RV [km/s]"},
    "y": {"field": "r", "type": "quantitative", "title": "Residuals [to fit]", "axis": {"values": [-0.005, 0, 0.005, 0.01], "format": ".3f"}},
    "color": {"datum": "Median residual"}
   }}
 ]
},
{
 "width": 1067, "height": 235,
 "data": {"name": "ccf"},
 "layer": [
  {"mark": {"type": "area", "opacity": 0.5, "stroke": "#ffa500", "strokeWidth": 1},
   "encoding": {
    "x": {"field": "rv", "type": "quantitative", "title": "RV [km/s]", "scale": {"domain": [-60.3, 43.0], "nice": false, "zero": false}, "axis": {"values": [-60, -40, -20, 0, 20, 40], "format": "d"}},
    "y": {"field": "o2l", "type": "quantitative", "title": "Residuals [To Median]", "scale": {"domain": [-0.004272, 0.003403], "nice": false, "zero": false}, "axis": {"values": [-0.004, -0.003, -0.002, -0.001, 0, 0.001, 0.002, 0.003], "tickCount": 8, "format": ".3f"}},
    "y2": {"field": "o2h"},
    "color": {"datum": "2-σ", "scale": {"domain": ["2-σ", "1-σ", "Median residual"], "range": ["#ffa500", "#ff0000", "#1f77b4"]},
     "legend": {"title": null, "direction": "horizontal", "columns": 3, "columnPadding": 20,
       "symbolType": {"expr": "datum.index === 2 ? 'M-1.4,-0.05H1.4V0.05H-1.4Z' : 'M-1.4,-0.55H1.4V0.55H-1.4Z'"},
       "symbolOpacity": {"expr": "datum.index === 0 ? 0.5 : datum.index === 1 ? 0.4 : 0.8"},
       "symbolStrokeWidth": 1}}
   }},
  {"mark": {"type": "area", "opacity": 0.4, "stroke": "#ff0000", "strokeWidth": 1},
   "encoding": {
    "x": {"field": "rv", "type": "quantitative", "title": "RV [km/s]"},
    "y": {"field": "o1l", "type": "quantitative", "title": "Residuals [To Median]", "axis": {"values": [-0.004, -0.003, -0.002, -0.001, 0, 0.001, 0.002, 0.003], "tickCount": 8, "format": ".3f"}},
    "y2": {"field": "o1h"},
    "color": {"datum": "1-σ"}
   }},
  {"mark": {"type": "line", "strokeWidth": 2, "opacity": 0.8},
   "encoding": {
    "x": {"field": "rv", "type": "quantitative", "title": "RV [km/s]"},
    "y": {"datum": 0, "type": "quantitative", "title": "Residuals [To Median]", "axis": {"values": [-0.004, -0.003, -0.002, -0.001, 0, 0.001, 0.002, 0.003], "tickCount": 8, "format": ".3f"}},
    "color": {"datum": "Median residual"}
   }}
 ]
}
]
}
